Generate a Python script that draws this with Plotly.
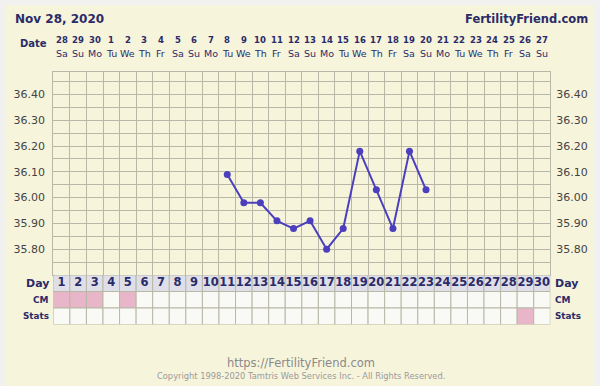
import plotly.graph_objects as go

# ---- data ----
cycle_days = list(range(1, 31))
date_numbers = [28, 29, 30, 1, 2, 3, 4, 5, 6, 7, 8, 9, 10, 11, 12, 13, 14, 15, 16, 17,
                18, 19, 20, 21, 22, 23, 24, 25, 26, 27]
weekdays = ["Sa", "Su", "Mo", "Tu", "We", "Th", "Fr"] * 4 + ["Sa", "Su"]
temp_days = [11, 12, 13, 14, 15, 16, 17, 18, 19, 20, 21, 22, 23]
temps = [36.09, 35.98, 35.98, 35.91, 35.88, 35.91, 35.80, 35.88, 36.18, 36.03, 35.88, 36.18, 36.03]
temp_ticks = [35.80, 35.90, 36.00, 36.10, 36.20, 36.30, 36.40]
cm_marked = [1, 2, 3, 5]
stats_marked = [29]
row_names = ["Day", "CM", "Stats"]

# ---- style ----
W, H = 600, 386
CREAM = "#f7f4dc"
OUTER = "#f1f1ef"
GRID = "#b9b8a6"
NAVY = "#2b2b68"
LINE = "#4b3fbe"
PINK = "#e8b6c8"
DAYBG = "#dfdfe9"
CELL = "#f9f9f6"
FONT = "DejaVu Sans"

def px(x):
    return x / W

def py(y):
    return 1 - y / H

X0, X1 = 53.3, 550.3
Y_TOP, Y_CH_BOT, Y_ROWS_BOT = 71.7, 275.0, 324.5

fig = go.Figure()

fig.add_trace(go.Scatter(
    x=temp_days, y=temps, mode="lines+markers",
    line=dict(color=LINE, width=2), marker=dict(color=LINE, size=7),
    xaxis="x", yaxis="y", hoverinfo="skip", showlegend=False, cliponaxis=False))
# invisible trace for right axis
fig.add_trace(go.Scatter(x=[temp_days[0]], y=[temps[0]], mode="markers",
                         marker=dict(opacity=0), xaxis="x", yaxis="y3",
                         showlegend=False, hoverinfo="skip"))
# day numbers in the row
fig.add_trace(go.Scatter(
    x=cycle_days, y=[0.5] * len(cycle_days), mode="text",
    text=["<b>%d</b>" % d for d in cycle_days],
    textfont=dict(family=FONT, size=11.5, color=NAVY),
    xaxis="x2", yaxis="y2", showlegend=False, hoverinfo="skip"))

shapes = []
# panel
shapes.append(dict(type="rect", xref="paper", yref="paper", x0=px(6), x1=px(594),
                   y0=py(386), y1=py(5), fillcolor=CREAM, line=dict(width=0), layer="below"))
# row cells
for r, name in enumerate(row_names):
    for d in cycle_days:
        if r == 0:
            fc = DAYBG
        elif r == 1:
            fc = PINK if d in cm_marked else CELL
        else:
            fc = PINK if d in stats_marked else CELL
        shapes.append(dict(type="rect", xref="x2", yref="y2", x0=d - 0.5, x1=d + 0.5,
                           y0=r, y1=r + 1, fillcolor=fc,
                           line=dict(color=GRID, width=1), layer="below"))

annotations = []
annotations.append(dict(text="<b>Nov 28, 2020</b>", xref="paper", yref="paper",
                        x=px(13), y=py(19), xanchor="left", yanchor="middle", showarrow=False,
                        font=dict(family=FONT, size=12, color=NAVY)))
annotations.append(dict(text="<b>FertilityFriend.com</b>", xref="paper", yref="paper",
                        x=px(590), y=py(19), xanchor="right", yanchor="middle", showarrow=False,
                        font=dict(family=FONT, size=11.5, color=NAVY)))
annotations.append(dict(text="<b>Date</b>", xref="paper", yref="paper",
                        x=px(49), y=py(44), xanchor="right", yanchor="middle", showarrow=False,
                        font=dict(family=FONT, size=10, color=NAVY)))
for d, num, wd in zip(cycle_days, date_numbers, weekdays):
    annotations.append(dict(text="<b>%d</b>" % num, xref="x", yref="paper", x=d, y=py(40),
                            xanchor="center", yanchor="middle", showarrow=False,
                            font=dict(family=FONT, size=8.5, color=NAVY)))
    annotations.append(dict(text=wd, xref="x", yref="paper", x=d, y=py(53),
                            xanchor="center", yanchor="middle", showarrow=False,
                            font=dict(family=FONT, size=9.5, color=NAVY)))
row_centers = [283.2, 299.7, 316.2]
row_sizes = [11, 9, 8.8]
for name, yc, fs in zip(row_names, row_centers, row_sizes):
    annotations.append(dict(text="<b>%s</b>" % name, xref="paper", yref="paper", x=px(50.5),
                            y=py(yc), xanchor="right", yanchor="middle", showarrow=False,
                            font=dict(family=FONT, size=fs, color=NAVY)))
    annotations.append(dict(text="<b>%s</b>" % name, xref="paper", yref="paper", x=px(553),
                            y=py(yc), xanchor="left", yanchor="middle", showarrow=False,
                            font=dict(family=FONT, size=fs, color=NAVY)))
annotations.append(dict(text="https://FertilityFriend.com", xref="paper", yref="paper",
                        x=px(301), y=py(363), xanchor="center", yanchor="middle", showarrow=False,
                        font=dict(family=FONT, size=11.5, color="#8a8a8a")))
annotations.append(dict(text="Copyright 1998-2020 Tamtris Web Services Inc. - All Rights Reserved.",
                        xref="paper", yref="paper",
                        x=px(301), y=py(376), xanchor="center", yanchor="middle", showarrow=False,
                        font=dict(family=FONT, size=8.3, color="#9a9a9a")))

yrange = [35.70, 36.488]
fig.update_layout(
    width=W, height=H, autosize=False,
    margin=dict(l=0, r=0, t=0, b=0, pad=0),
    paper_bgcolor=OUTER, plot_bgcolor=CREAM,
    shapes=shapes, annotations=annotations,
    xaxis=dict(domain=[px(X0), px(X1)], range=[0.5, 30.5], tick0=0.5, dtick=1,
               showticklabels=False, ticks="", showgrid=True, gridcolor=GRID, gridwidth=1,
               zeroline=False, showline=True, linecolor=GRID, mirror=True, anchor="y"),
    yaxis=dict(domain=[py(Y_CH_BOT), py(Y_TOP)], range=yrange, tickmode="array",
               tickvals=temp_ticks, ticktext=["%.2f" % t for t in temp_ticks],
               tickfont=dict(family=FONT, size=11, color="#444444"), ticks="",
               ticklabelstandoff=5,
               showgrid=True, gridcolor=GRID, gridwidth=1, zeroline=False,
               minor=dict(tick0=35.70, dtick=0.05, showgrid=True, gridcolor=GRID, gridwidth=1, ticks=""),
               showline=True, linecolor=GRID, mirror=True, anchor="x"),
    yaxis3=dict(overlaying="y", side="right", range=yrange, tickmode="array",
                tickvals=temp_ticks, ticktext=["%.2f" % t for t in temp_ticks],
                tickfont=dict(family=FONT, size=11, color="#444444"), ticks="",
                ticklabelstandoff=5, showgrid=False, zeroline=False, anchor="x"),
    xaxis2=dict(domain=[px(X0), px(X1)], range=[0.5, 30.5], showticklabels=False,
                showgrid=False, zeroline=False, ticks="", anchor="y2"),
    yaxis2=dict(domain=[py(Y_ROWS_BOT), py(Y_CH_BOT)], range=[3, 0], showticklabels=False,
                showgrid=False, zeroline=False, ticks="", anchor="x2"),
)

fig.write_html("out.html", config={"displayModeBar": False},
               post_script="document.body.style.margin='0';document.body.style.overflow='hidden';"
                           "document.body.style.background='%s';" % OUTER)
